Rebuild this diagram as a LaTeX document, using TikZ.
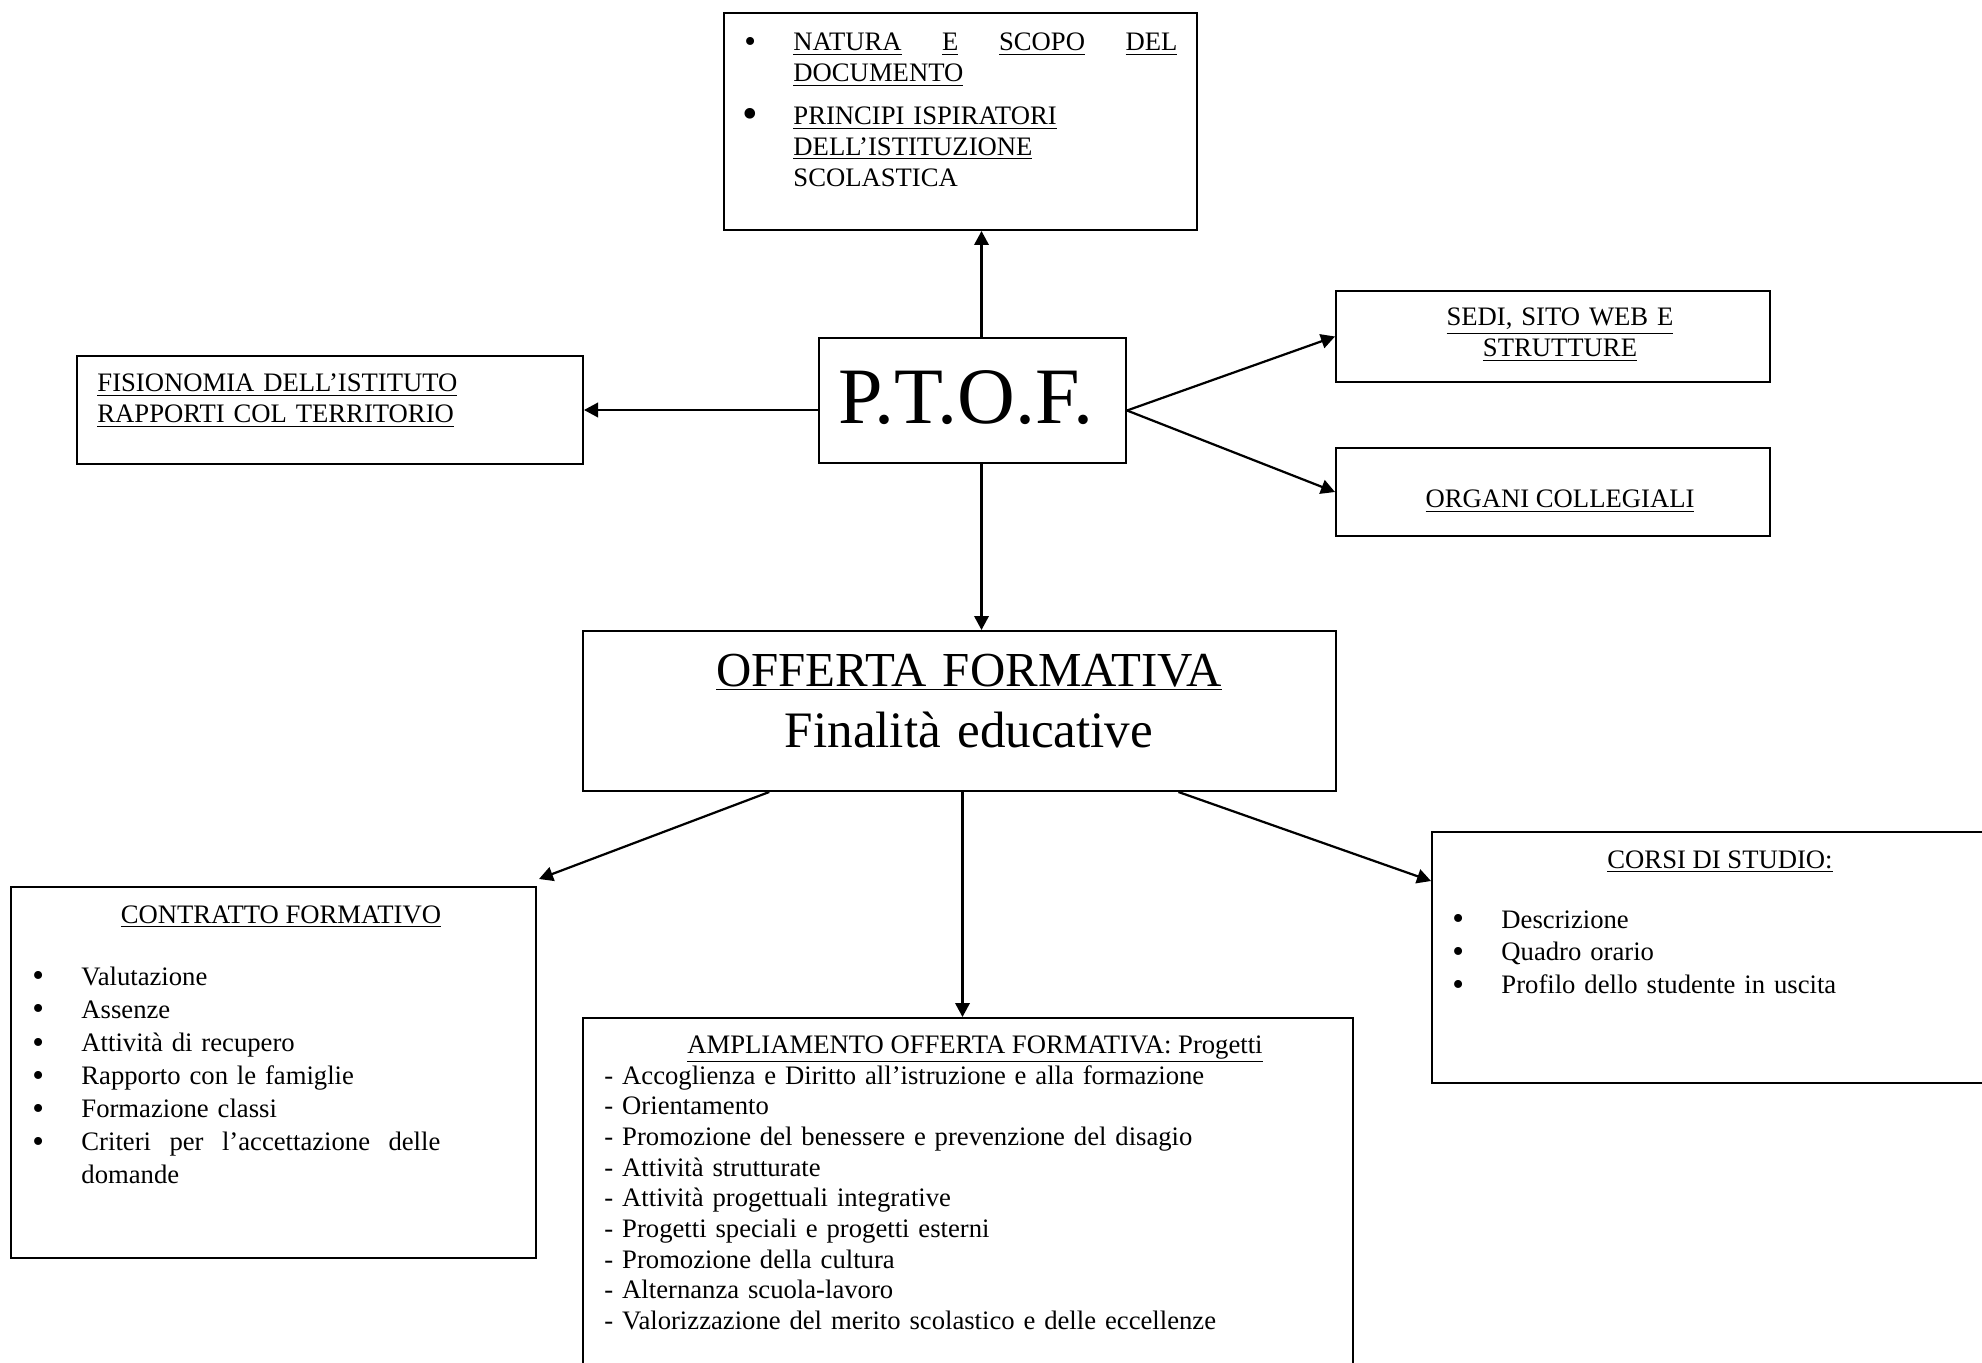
\documentclass[tikz,border=0pt]{standalone}
\usepackage{fontspec}
\setmainfont{Liberation Serif}
\usetikzlibrary{arrows.meta,fit,calc}
\tikzset{every node/.append style={align=left}}
\newcommand{\itm}{\leavevmode\llap{\raisebox{-0.8pt}{\fontsize{15}{15}\selectfont\textbullet}\hspace{16.8pt}}}
\newcommand{\bigitm}{\leavevmode\llap{\raisebox{-1.6pt}{\fontsize{20}{20}\selectfont\textbullet}\hspace{15.9pt}}}

\begin{document}
\begin{tikzpicture}[
    x=0.45pt, y=-0.45pt,
    box/.style={draw, line width=0.9pt, inner sep=0pt},
    txt/.style={inner sep=0pt, font=\fontsize{12}{13.8}\selectfont},
    conn/.style={line width=1pt, -{Triangle[length=6.3pt, width=6.5pt]}},
]
    \useasboundingbox (0,0) rectangle (1982,1363);

    % Boxes
    \node[box, fit={(724,13) (1197,230)}] (scopo) {};
    \node[box, fit={(819,338) (1126,463)}] (ptof) {};
    \node[box, fit={(77,356) (583,464)}] (fisionomia) {};
    \node[box, fit={(1336,291) (1770,382)}] (sedi) {};
    \node[box, fit={(1336,448) (1770,536)}] (organi) {};
    \node[box, fit={(583,631) (1336,791)}] (offerta) {};
    \node[box, fit={(11,887) (536,1258)}] (contratto) {};
    \node[box, fit={(583,1018) (1353,1400)}] (ampliamento) {};
    \node[box, fit={(1432,832) (2000,1083)}] (corsi) {};

    % Texts
    \node[txt, text width=172.8pt, anchor=base west] (scopotxt) at (793,51) {%
        \itm\underline{NATURA}\hfill\underline{E}\hfill\underline{SCOPO}\hfill\underline{DEL}\\
        \underline{DOCUMENTO}\\[5.6pt]
        \bigitm\underline{PRINCIPI ISPIRATORI}\\
        \underline{DELL'ISTITUZIONE}\\
        SCOLASTICA};
    \node[txt, font=\fontsize{36}{42}\selectfont, anchor=base] (ptoftxt) at (966,424) {P.T.O.F.};
    \node[txt, text width=200pt, anchor=base west] (fisionomiatxt) at (97,392) {%
        \underline{FISIONOMIA DELL'ISTITUTO}\\
        \underline{RAPPORTI COL TERRITORIO}};
    \node[txt, text width=180pt, align=center, anchor=base] (seditxt) at (1560,326) {%
        \underline{SEDI, SITO WEB E}\\
        \underline{STRUTTURE}};
    \node[txt, anchor=base] (organitxt) at (1560,508) {\underline{ORGANI COLLEGIALI}};
    \node[txt, font=\fontsize{22}{27.5}\selectfont, text width=300pt, align=center, anchor=base] (offertatxt) at (969,686) {%
        \underline{OFFERTA FORMATIVA}\\
        {\fontsize{23}{27.5}\selectfont Finalità educative}};
    \node[txt, anchor=base] (contrattotitle) at (281,923) {\underline{CONTRATTO FORMATIVO}};
    \node[txt, font=\fontsize{12}{14.9}\selectfont, text width=161.5pt, anchor=base west] (contrattotxt) at (81,985) {%
        \itm Valutazione\\
        \itm Assenze\\
        \itm Attività di recupero\\
        \itm Rapporto con le famiglie\\
        \itm Formazione classi\\
        \itm Criteri\hfill per\hfill l'accettazione\hfill delle\\
        domande};
    \node[txt, anchor=base] (ampltitle) at (975,1053) {\underline{AMPLIAMENTO OFFERTA FORMATIVA: Progetti}};
    \node[txt, text width=340pt, anchor=base west] (ampltxt) at (604,1084) {%
        - Accoglienza e Diritto all'istruzione e alla formazione\\
        - Orientamento\\
        - Promozione del benessere e prevenzione del disagio\\
        - Attività strutturate\\
        - Attività progettuali integrative\\
        - Progetti speciali e progetti esterni\\
        - Promozione della cultura\\
        - Alternanza scuola-lavoro\\
        - Valorizzazione del merito scolastico e delle eccellenze};
    \node[txt, anchor=base] (corsititle) at (1720,868) {\underline{CORSI DI STUDIO:}};
    \node[txt, font=\fontsize{12}{14.8}\selectfont, text width=200pt, anchor=base west] (corsitxt) at (1501,928) {%
        \itm Descrizione\\
        \itm Quadro orario\\
        \itm Profilo dello studente in uscita};

    % Connectors
    \draw[conn] ($(ptof.north)+(9,0)$) -- ($(ptof.north |- scopo.south)+(9,0)$);
    \draw[conn] (ptof.west |- fisionomia.east) -- (fisionomia.east);
    \draw[conn] ($(ptof.east)+(0,10)$) -- (sedi.west);
    \draw[conn] ($(ptof.east)+(0,10)$) -- (organi.west);
    \draw[conn] ($(ptof.south)+(9,0)$) -- ($(ptof.south |- offerta.north)+(9,0)$);
    \draw[conn] ($(offerta.south west)!0.248!(offerta.south east)$) -- ($(contratto.north east)+(2,-7)$);
    \draw[conn] ($(offerta.south)+(3,0)$) -- ($(offerta.south |- ampliamento.north)+(3,0)$);
    \draw[conn] ($(offerta.south west)!0.79!(offerta.south east)$) -- ($(corsi.north west)+(0,50)$);

\end{tikzpicture}
\end{document}
